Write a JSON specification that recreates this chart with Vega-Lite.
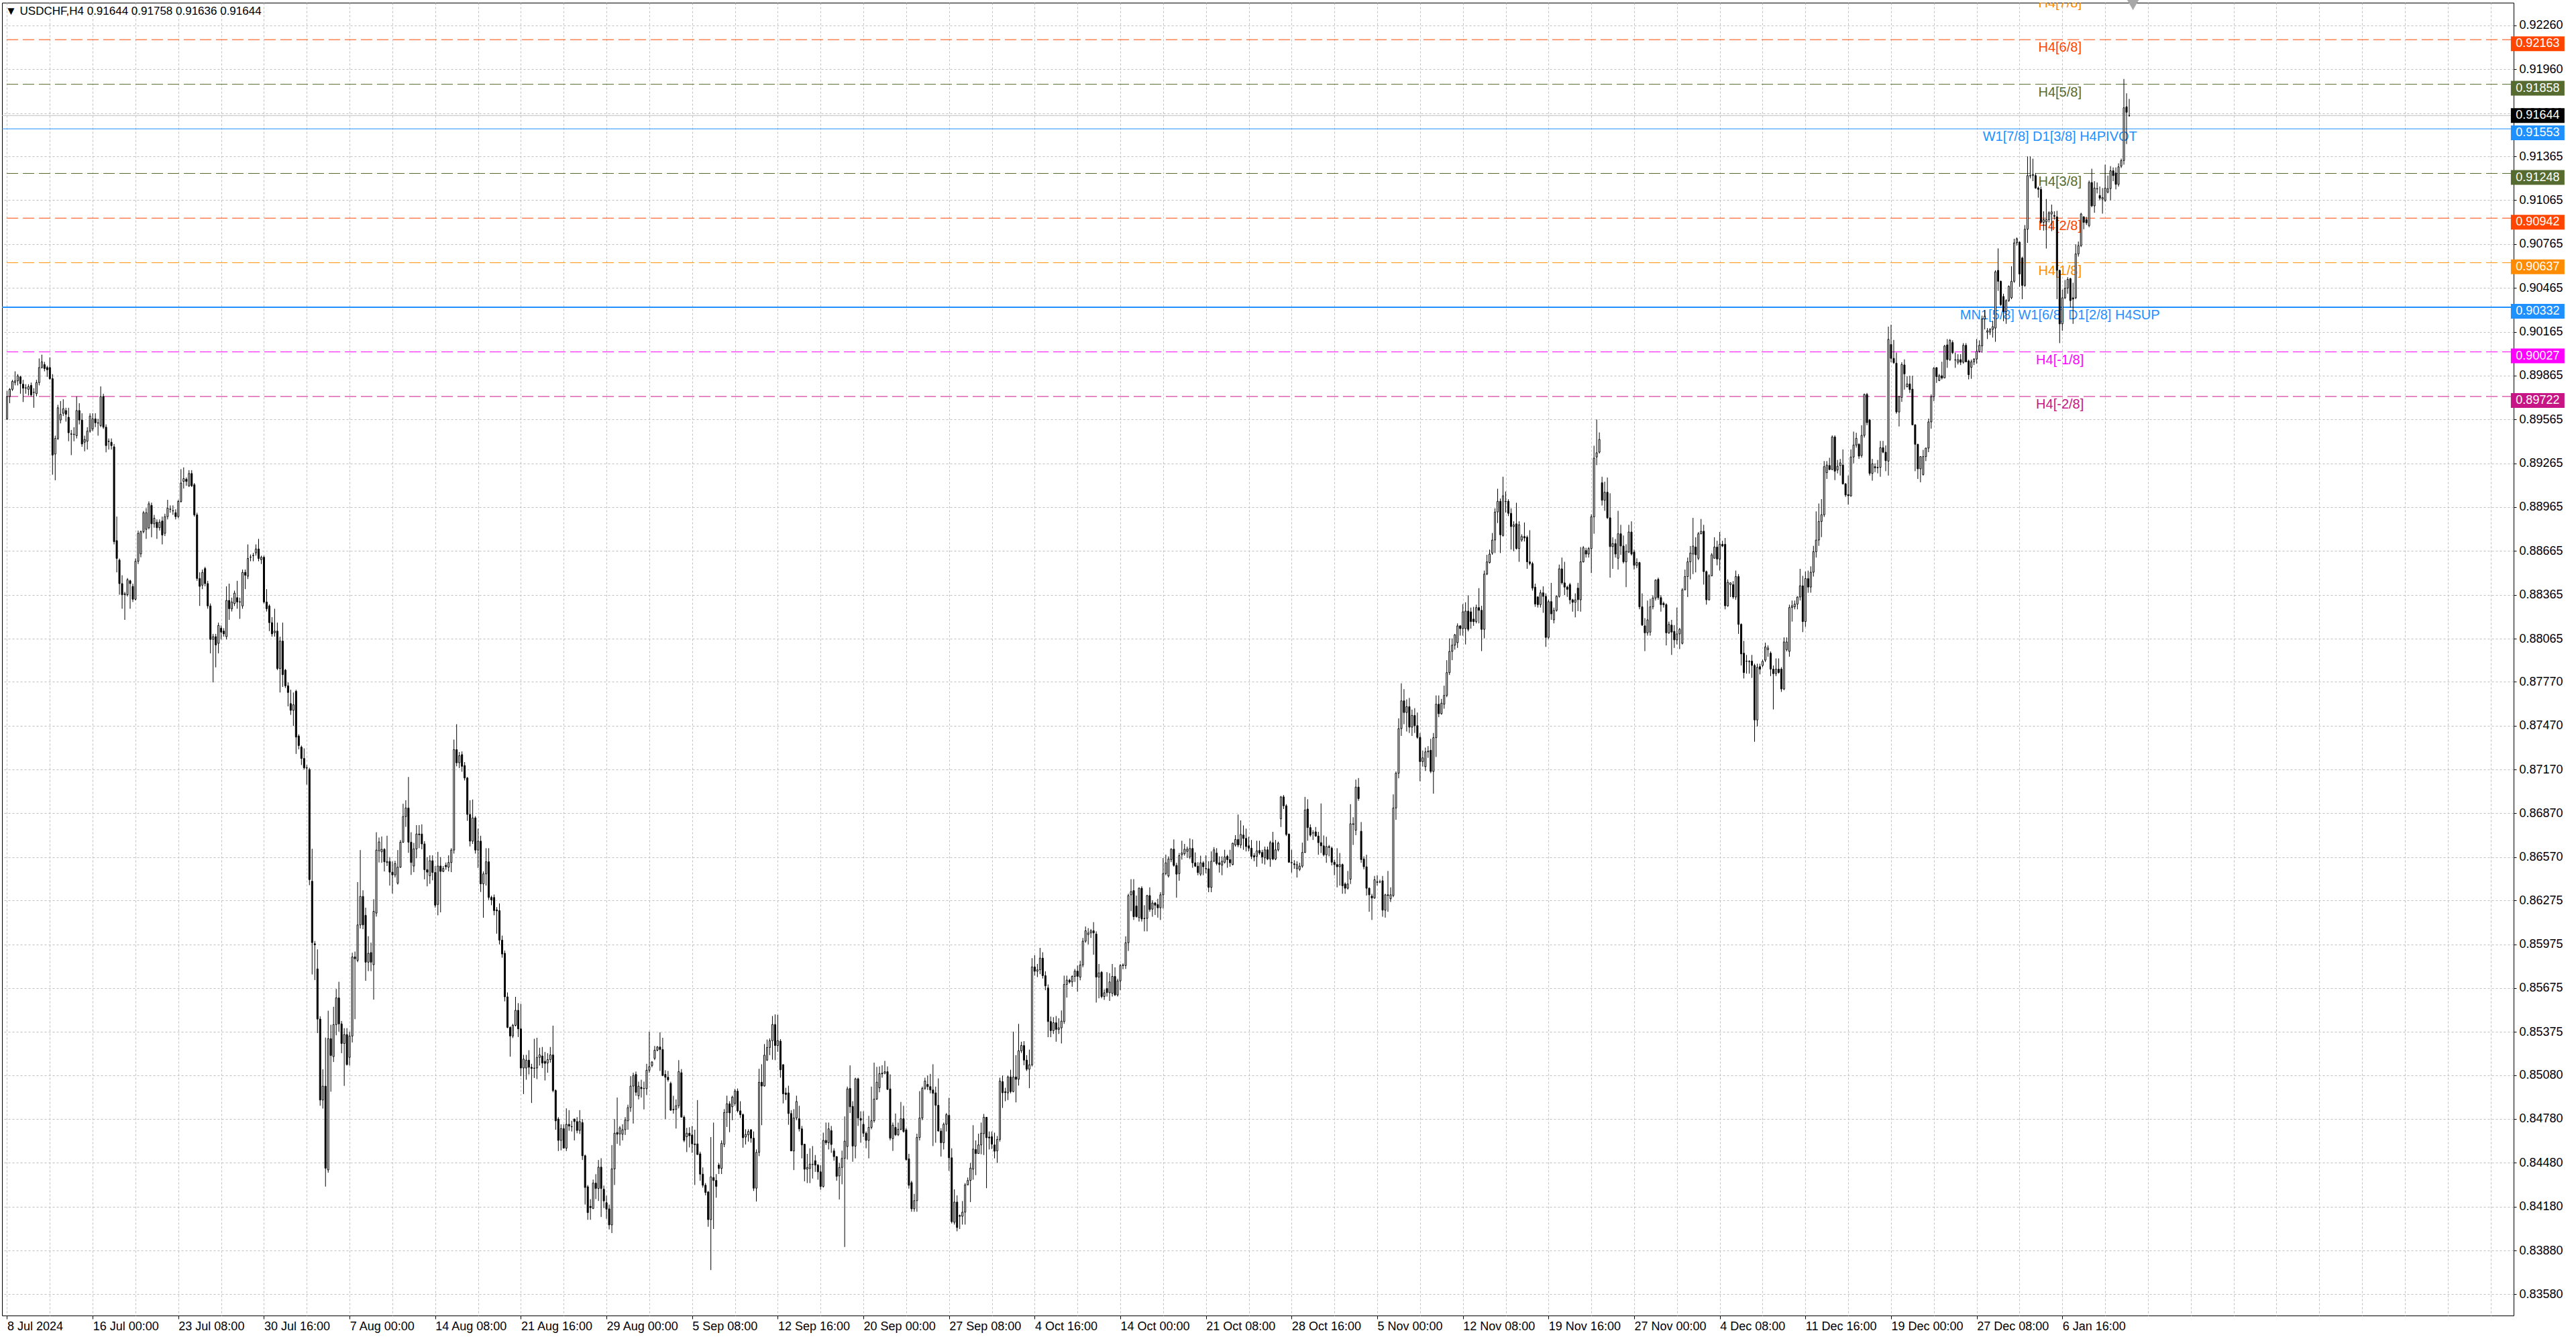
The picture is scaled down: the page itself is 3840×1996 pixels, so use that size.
{
"$schema": "https://vega.github.io/schema/vega-lite/v6.json",
"width": 3744,
"height": 1957,
"autosize": {"type": "none"},
"padding": {"left": 3, "top": 4, "right": 93, "bottom": 35},
"background": "#ffffff",
"title": {"text": "▼  USDCHF,H4  0.91644 0.91758 0.91636 0.91644", "anchor": "start", "frame": "group", "orient": "top", "offset": -26, "dx": 5, "fontSize": 17, "fontWeight": "normal", "font": "Liberation Sans", "color": "#000000"},
"config": {"view": {"stroke": "#000000", "strokeWidth": 1}},
"datasets": {
"levels": [
{"name":"H4[7/8]","p":0.92468,"grp":"7/8"},
{"name":"H4[6/8]","p":0.92163,"grp":"6/8"},
{"name":"H4[5/8]","p":0.91858,"grp":"5/8"},
{"name":"W1[7/8] D1[3/8] H4PIVOT","p":0.91553,"grp":"pivot"},
{"name":"H4[3/8]","p":0.91248,"grp":"3/8"},
{"name":"H4[2/8]","p":0.90942,"grp":"2/8"},
{"name":"H4[1/8]","p":0.90637,"grp":"1/8"},
{"name":"MN1[5/8] W1[6/8] D1[2/8] H4SUP","p":0.90332,"grp":"sup"},
{"name":"H4[-1/8]","p":0.90027,"grp":"-1/8"},
{"name":"H4[-2/8]","p":0.89722,"grp":"-2/8"},
{"name":"USDCHF bid","p":0.91644,"grp":"bid"}
],
"shift": [{"i":794.4,"p":0.924}],
"bars": [
{"i":0,"o":0.89569,"h":0.8976,"l":0.89561,"c":0.89722},
{"i":1,"o":0.89722,"h":0.89779,"l":0.89676,"c":0.89771},
{"i":2,"o":0.89771,"h":0.89836,"l":0.8976,"c":0.89825},
{"i":3,"o":0.89817,"h":0.89894,"l":0.89798,"c":0.89829},
{"i":4,"o":0.89829,"h":0.89875,"l":0.89798,"c":0.89863},
{"i":5,"o":0.89856,"h":0.89863,"l":0.89741,"c":0.8981},
{"i":6,"o":0.89806,"h":0.89836,"l":0.89684,"c":0.89779},
{"i":7,"o":0.89779,"h":0.89806,"l":0.89741,"c":0.89782},
{"i":8,"o":0.89771,"h":0.89806,"l":0.89729,"c":0.8979},
{"i":9,"o":0.89798,"h":0.89817,"l":0.89722,"c":0.89733},
{"i":10,"o":0.89749,"h":0.89779,"l":0.89645,"c":0.89751},
{"i":11,"o":0.89741,"h":0.89836,"l":0.89722,"c":0.89817},
{"i":12,"o":0.89817,"h":0.89982,"l":0.89798,"c":0.8992},
{"i":13,"o":0.8992,"h":0.90008,"l":0.89913,"c":0.89959},
{"i":14,"o":0.8994,"h":0.89959,"l":0.89894,"c":0.89913},
{"i":15,"o":0.8992,"h":0.89932,"l":0.89856,"c":0.89905},
{"i":16,"o":0.8992,"h":0.89989,"l":0.89836,"c":0.89844},
{"i":17,"o":0.89844,"h":0.89875,"l":0.89187,"c":0.89321},
{"i":18,"o":0.89328,"h":0.89454,"l":0.89149,"c":0.89435},
{"i":19,"o":0.89435,"h":0.89665,"l":0.89424,"c":0.89645},
{"i":20,"o":0.89561,"h":0.89691,"l":0.89538,"c":0.896},
{"i":21,"o":0.89607,"h":0.89703,"l":0.89588,"c":0.89638},
{"i":22,"o":0.89626,"h":0.89645,"l":0.8955,"c":0.896},
{"i":23,"o":0.8958,"h":0.89645,"l":0.89416,"c":0.89474},
{"i":24,"o":0.89466,"h":0.89493,"l":0.89321,"c":0.89464},
{"i":25,"o":0.89462,"h":0.89512,"l":0.89416,"c":0.89464},
{"i":26,"o":0.89454,"h":0.89722,"l":0.89435,"c":0.89626},
{"i":27,"o":0.89626,"h":0.89676,"l":0.89531,"c":0.89561},
{"i":28,"o":0.89561,"h":0.89607,"l":0.89378,"c":0.89397},
{"i":29,"o":0.89409,"h":0.89454,"l":0.89347,"c":0.89428},
{"i":30,"o":0.89416,"h":0.89512,"l":0.89359,"c":0.89485},
{"i":31,"o":0.89485,"h":0.89607,"l":0.89474,"c":0.89588},
{"i":32,"o":0.895,"h":0.89607,"l":0.89485,"c":0.89569},
{"i":33,"o":0.89569,"h":0.89607,"l":0.89512,"c":0.89542},
{"i":34,"o":0.89542,"h":0.89569,"l":0.89454,"c":0.8954},
{"i":35,"o":0.89523,"h":0.89791,"l":0.89512,"c":0.89722},
{"i":36,"o":0.89722,"h":0.89741,"l":0.895,"c":0.89512},
{"i":37,"o":0.89512,"h":0.89531,"l":0.8934,"c":0.89386},
{"i":38,"o":0.89416,"h":0.89435,"l":0.89359,"c":0.89414},
{"i":39,"o":0.89409,"h":0.89435,"l":0.89359,"c":0.89386},
{"i":40,"o":0.89378,"h":0.89397,"l":0.8871,"c":0.88729},
{"i":41,"o":0.88736,"h":0.88901,"l":0.88519,"c":0.88614},
{"i":42,"o":0.88603,"h":0.88614,"l":0.88366,"c":0.88442},
{"i":43,"o":0.88442,"h":0.88499,"l":0.8827,"c":0.88366},
{"i":44,"o":0.88366,"h":0.88385,"l":0.88194,"c":0.88373},
{"i":45,"o":0.88366,"h":0.8848,"l":0.88354,"c":0.88469},
{"i":46,"o":0.88461,"h":0.88469,"l":0.8827,"c":0.88442},
{"i":47,"o":0.88423,"h":0.88442,"l":0.88316,"c":0.88335},
{"i":48,"o":0.88335,"h":0.88614,"l":0.88327,"c":0.88595},
{"i":49,"o":0.88595,"h":0.88805,"l":0.88576,"c":0.88786},
{"i":50,"o":0.88645,"h":0.88805,"l":0.88622,"c":0.88797},
{"i":51,"o":0.88797,"h":0.88939,"l":0.88786,"c":0.88927},
{"i":52,"o":0.88813,"h":0.88958,"l":0.88748,"c":0.88927},
{"i":53,"o":0.88824,"h":0.89004,"l":0.88813,"c":0.88988},
{"i":54,"o":0.88977,"h":0.88996,"l":0.88759,"c":0.88851},
{"i":55,"o":0.88851,"h":0.88912,"l":0.88824,"c":0.88889},
{"i":56,"o":0.88862,"h":0.88881,"l":0.88748,"c":0.88824},
{"i":57,"o":0.88824,"h":0.88881,"l":0.88805,"c":0.88862},
{"i":58,"o":0.8887,"h":0.889,"l":0.8871,"c":0.88774},
{"i":59,"o":0.88786,"h":0.8892,"l":0.88767,"c":0.889},
{"i":60,"o":0.889,"h":0.89015,"l":0.88881,"c":0.88958},
{"i":61,"o":0.8895,"h":0.88977,"l":0.88927,"c":0.88952},
{"i":62,"o":0.88939,"h":0.88977,"l":0.88912,"c":0.88941},
{"i":63,"o":0.88927,"h":0.8895,"l":0.88881,"c":0.889},
{"i":64,"o":0.889,"h":0.89015,"l":0.88889,"c":0.89004},
{"i":65,"o":0.89004,"h":0.89225,"l":0.88996,"c":0.8913},
{"i":66,"o":0.89141,"h":0.89237,"l":0.89092,"c":0.8916},
{"i":67,"o":0.89156,"h":0.89168,"l":0.89111,"c":0.89141},
{"i":68,"o":0.89111,"h":0.89218,"l":0.89103,"c":0.89195},
{"i":69,"o":0.89195,"h":0.89218,"l":0.89103,"c":0.89111},
{"i":70,"o":0.89118,"h":0.8913,"l":0.889,"c":0.88912},
{"i":71,"o":0.88912,"h":0.88927,"l":0.88461,"c":0.88477},
{"i":72,"o":0.88477,"h":0.88519,"l":0.88289,"c":0.88423},
{"i":73,"o":0.88431,"h":0.88538,"l":0.88404,"c":0.88519},
{"i":74,"o":0.88545,"h":0.88557,"l":0.88423,"c":0.88442},
{"i":75,"o":0.88442,"h":0.88461,"l":0.8827,"c":0.88289},
{"i":76,"o":0.88289,"h":0.88306,"l":0.87965,"c":0.8806},
{"i":77,"o":0.8806,"h":0.88098,"l":0.87766,"c":0.88079},
{"i":78,"o":0.88079,"h":0.88098,"l":0.87869,"c":0.88022},
{"i":79,"o":0.88033,"h":0.88175,"l":0.87965,"c":0.88156},
{"i":80,"o":0.88137,"h":0.88156,"l":0.8806,"c":0.8811},
{"i":81,"o":0.88117,"h":0.88137,"l":0.88079,"c":0.88098},
{"i":82,"o":0.88079,"h":0.88423,"l":0.8806,"c":0.88327},
{"i":83,"o":0.88327,"h":0.88442,"l":0.88194,"c":0.8827},
{"i":84,"o":0.8827,"h":0.88346,"l":0.88251,"c":0.88316},
{"i":85,"o":0.88306,"h":0.88394,"l":0.88289,"c":0.88377},
{"i":86,"o":0.88346,"h":0.88461,"l":0.8827,"c":0.88316},
{"i":87,"o":0.88316,"h":0.88346,"l":0.88201,"c":0.88318},
{"i":88,"o":0.88289,"h":0.88538,"l":0.8827,"c":0.88519},
{"i":89,"o":0.88519,"h":0.88538,"l":0.88404,"c":0.88499},
{"i":90,"o":0.88492,"h":0.8871,"l":0.88473,"c":0.88614},
{"i":91,"o":0.88622,"h":0.88641,"l":0.88595,"c":0.88624},
{"i":92,"o":0.88633,"h":0.88652,"l":0.88595,"c":0.88635},
{"i":93,"o":0.88652,"h":0.8871,"l":0.88633,"c":0.88679},
{"i":94,"o":0.88679,"h":0.88748,"l":0.88595,"c":0.88614},
{"i":95,"o":0.88606,"h":0.88633,"l":0.88576,"c":0.88622},
{"i":96,"o":0.88622,"h":0.88633,"l":0.88306,"c":0.88316},
{"i":97,"o":0.88316,"h":0.88404,"l":0.88251,"c":0.8827},
{"i":98,"o":0.88289,"h":0.883,"l":0.88117,"c":0.88175},
{"i":99,"o":0.88175,"h":0.88213,"l":0.88079,"c":0.88098},
{"i":100,"o":0.88106,"h":0.8827,"l":0.88079,"c":0.88117},
{"i":101,"o":0.88117,"h":0.88175,"l":0.8785,"c":0.87861},
{"i":102,"o":0.87861,"h":0.88079,"l":0.87697,"c":0.88049},
{"i":103,"o":0.88049,"h":0.88175,"l":0.87735,"c":0.87819},
{"i":104,"o":0.8785,"h":0.87858,"l":0.87728,"c":0.87743},
{"i":105,"o":0.87743,"h":0.87766,"l":0.87602,"c":0.87697},
{"i":106,"o":0.87621,"h":0.87716,"l":0.87544,"c":0.87575},
{"i":107,"o":0.87575,"h":0.87697,"l":0.87468,"c":0.87613},
{"i":108,"o":0.87705,"h":0.87716,"l":0.87277,"c":0.87392},
{"i":109,"o":0.87399,"h":0.87411,"l":0.87308,"c":0.87334},
{"i":110,"o":0.87323,"h":0.87334,"l":0.87201,"c":0.87246},
{"i":111,"o":0.87246,"h":0.87315,"l":0.8717,"c":0.87182},
{"i":112,"o":0.87182,"h":0.87201,"l":0.87067,"c":0.8718},
{"i":113,"o":0.8717,"h":0.87182,"l":0.86379,"c":0.86417},
{"i":114,"o":0.86406,"h":0.86628,"l":0.85768,"c":0.85986},
{"i":115,"o":0.85978,"h":0.85997,"l":0.8573,"c":0.85971},
{"i":116,"o":0.85806,"h":0.8594,"l":0.85367,"c":0.85463},
{"i":117,"o":0.85463,"h":0.85482,"l":0.8487,"c":0.84909},
{"i":118,"o":0.84909,"h":0.85119,"l":0.84851,"c":0.85004},
{"i":119,"o":0.85004,"h":0.85336,"l":0.84317,"c":0.84443},
{"i":120,"o":0.84431,"h":0.8552,"l":0.84412,"c":0.85329},
{"i":121,"o":0.85329,"h":0.85424,"l":0.84966,"c":0.85214},
{"i":122,"o":0.85206,"h":0.85547,"l":0.85169,"c":0.85425},
{"i":123,"o":0.85425,"h":0.85669,"l":0.85352,"c":0.85608},
{"i":124,"o":0.85608,"h":0.85718,"l":0.85377,"c":0.8543},
{"i":125,"o":0.8543,"h":0.8545,"l":0.8523,"c":0.85296},
{"i":126,"o":0.85296,"h":0.85401,"l":0.85006,"c":0.85357},
{"i":127,"o":0.85357,"h":0.85401,"l":0.85145,"c":0.85152},
{"i":128,"o":0.85201,"h":0.85377,"l":0.85145,"c":0.85347},
{"i":129,"o":0.85347,"h":0.85917,"l":0.85303,"c":0.85888},
{"i":130,"o":0.85888,"h":0.85925,"l":0.85462,"c":0.85876},
{"i":131,"o":0.85864,"h":0.864,"l":0.85852,"c":0.86107},
{"i":132,"o":0.86107,"h":0.86619,"l":0.86083,"c":0.86302},
{"i":133,"o":0.86302,"h":0.86344,"l":0.86078,"c":0.86107},
{"i":134,"o":0.86173,"h":0.86225,"l":0.85725,"c":0.85852},
{"i":135,"o":0.85852,"h":0.8603,"l":0.85791,"c":0.85913},
{"i":136,"o":0.85918,"h":0.85986,"l":0.85791,"c":0.85852},
{"i":137,"o":0.85835,"h":0.86283,"l":0.85596,"c":0.862},
{"i":138,"o":0.86188,"h":0.86741,"l":0.86164,"c":0.86619},
{"i":139,"o":0.86614,"h":0.86705,"l":0.86534,"c":0.86675},
{"i":140,"o":0.86607,"h":0.86712,"l":0.86532,"c":0.86624},
{"i":141,"o":0.86624,"h":0.86632,"l":0.86473,"c":0.86539},
{"i":142,"o":0.86534,"h":0.86717,"l":0.8651,"c":0.86541},
{"i":143,"o":0.86541,"h":0.86571,"l":0.86376,"c":0.86468},
{"i":144,"o":0.86468,"h":0.86541,"l":0.86322,"c":0.86449},
{"i":145,"o":0.86449,"h":0.86546,"l":0.86432,"c":0.86527},
{"i":146,"o":0.86393,"h":0.86619,"l":0.86383,"c":0.86502},
{"i":147,"o":0.86502,"h":0.86688,"l":0.86497,"c":0.86673},
{"i":148,"o":0.86673,"h":0.86936,"l":0.86668,"c":0.86848},
{"i":149,"o":0.86848,"h":0.8696,"l":0.86778,"c":0.86907},
{"i":150,"o":0.86907,"h":0.87119,"l":0.866,"c":0.86673},
{"i":151,"o":0.86673,"h":0.86741,"l":0.86449,"c":0.86534},
{"i":152,"o":0.8651,"h":0.86668,"l":0.86468,"c":0.86627},
{"i":153,"o":0.86627,"h":0.8679,"l":0.86563,"c":0.86729},
{"i":154,"o":0.86729,"h":0.8679,"l":0.86632,"c":0.86724},
{"i":155,"o":0.86729,"h":0.86795,"l":0.86624,"c":0.86661},
{"i":156,"o":0.86661,"h":0.8668,"l":0.86419,"c":0.86485},
{"i":157,"o":0.86485,"h":0.86571,"l":0.86371,"c":0.86468},
{"i":158,"o":0.86444,"h":0.86583,"l":0.86388,"c":0.86546},
{"i":159,"o":0.86546,"h":0.86583,"l":0.86412,"c":0.86466},
{"i":160,"o":0.86466,"h":0.8651,"l":0.86225,"c":0.86242},
{"i":161,"o":0.86247,"h":0.86607,"l":0.86173,"c":0.8651},
{"i":162,"o":0.8651,"h":0.86571,"l":0.86193,"c":0.86473},
{"i":163,"o":0.86473,"h":0.8651,"l":0.86468,"c":0.86493},
{"i":164,"o":0.86515,"h":0.86534,"l":0.86485,"c":0.86505},
{"i":165,"o":0.86502,"h":0.86583,"l":0.86473,"c":0.86534},
{"i":166,"o":0.86534,"h":0.86632,"l":0.86468,"c":0.86619},
{"i":167,"o":0.86619,"h":0.87375,"l":0.86595,"c":0.87306},
{"i":168,"o":0.87306,"h":0.8748,"l":0.87192,"c":0.87216},
{"i":169,"o":0.87216,"h":0.8729,"l":0.8718,"c":0.87265},
{"i":170,"o":0.87272,"h":0.87294,"l":0.87155,"c":0.87192},
{"i":171,"o":0.87197,"h":0.87221,"l":0.87095,"c":0.87112},
{"i":172,"o":0.87112,"h":0.87119,"l":0.86819,"c":0.86863},
{"i":173,"o":0.86863,"h":0.8696,"l":0.86644,"c":0.8668},
{"i":174,"o":0.8668,"h":0.86965,"l":0.86661,"c":0.86839},
{"i":175,"o":0.86839,"h":0.86851,"l":0.86595,"c":0.86619},
{"i":176,"o":0.86619,"h":0.86766,"l":0.86497,"c":0.8668},
{"i":177,"o":0.8668,"h":0.86717,"l":0.86332,"c":0.86388},
{"i":178,"o":0.86388,"h":0.86473,"l":0.86156,"c":0.86456},
{"i":179,"o":0.86456,"h":0.86632,"l":0.86376,"c":0.86539},
{"i":180,"o":0.86539,"h":0.86632,"l":0.86278,"c":0.86295},
{"i":181,"o":0.86295,"h":0.86307,"l":0.86242,"c":0.86278},
{"i":182,"o":0.86295,"h":0.86315,"l":0.86173,"c":0.86205},
{"i":183,"o":0.8621,"h":0.86229,"l":0.86047,"c":0.86203},
{"i":184,"o":0.86205,"h":0.86254,"l":0.85974,"c":0.86003},
{"i":185,"o":0.86003,"h":0.86034,"l":0.85883,"c":0.85908},
{"i":186,"o":0.85913,"h":0.85932,"l":0.85584,"c":0.85615},
{"i":187,"o":0.85615,"h":0.85645,"l":0.85401,"c":0.85406},
{"i":188,"o":0.85406,"h":0.85413,"l":0.85206,"c":0.85347},
{"i":189,"o":0.85347,"h":0.8543,"l":0.85333,"c":0.8542},
{"i":190,"o":0.8542,"h":0.85615,"l":0.85413,"c":0.85523},
{"i":191,"o":0.85523,"h":0.85572,"l":0.8534,"c":0.85396},
{"i":192,"o":0.85396,"h":0.85567,"l":0.85072,"c":0.85128},
{"i":193,"o":0.85128,"h":0.85218,"l":0.8495,"c":0.85189},
{"i":194,"o":0.85128,"h":0.85218,"l":0.85048,"c":0.85182},
{"i":195,"o":0.85182,"h":0.8525,"l":0.85084,"c":0.85133},
{"i":196,"o":0.85133,"h":0.85157,"l":0.84889,"c":0.85126},
{"i":197,"o":0.85126,"h":0.85328,"l":0.8506,"c":0.85128},
{"i":198,"o":0.85128,"h":0.85335,"l":0.85052,"c":0.85201},
{"i":199,"o":0.85201,"h":0.85267,"l":0.85145,"c":0.85218},
{"i":200,"o":0.85211,"h":0.85272,"l":0.85128,"c":0.85162},
{"i":201,"o":0.85174,"h":0.85238,"l":0.85043,"c":0.8516},
{"i":202,"o":0.85162,"h":0.8523,"l":0.85096,"c":0.85186},
{"i":203,"o":0.85186,"h":0.85272,"l":0.85165,"c":0.85218},
{"i":204,"o":0.85218,"h":0.85418,"l":0.84962,"c":0.84974},
{"i":205,"o":0.84974,"h":0.84982,"l":0.84706,"c":0.84767},
{"i":206,"o":0.84779,"h":0.84792,"l":0.8456,"c":0.84633},
{"i":207,"o":0.84633,"h":0.84743,"l":0.84565,"c":0.84714},
{"i":208,"o":0.84714,"h":0.84743,"l":0.84577,"c":0.8458},
{"i":209,"o":0.8458,"h":0.84852,"l":0.8456,"c":0.84743},
{"i":210,"o":0.84743,"h":0.8484,"l":0.84699,"c":0.84731},
{"i":211,"o":0.84728,"h":0.84767,"l":0.84694,"c":0.84726},
{"i":212,"o":0.84779,"h":0.84782,"l":0.84633,"c":0.84762},
{"i":213,"o":0.84762,"h":0.84792,"l":0.84682,"c":0.84701},
{"i":214,"o":0.84701,"h":0.8484,"l":0.84677,"c":0.84762},
{"i":215,"o":0.84755,"h":0.84779,"l":0.84499,"c":0.84528},
{"i":216,"o":0.84528,"h":0.84536,"l":0.84194,"c":0.84311},
{"i":217,"o":0.84316,"h":0.84328,"l":0.8409,"c":0.84139},
{"i":218,"o":0.84182,"h":0.84231,"l":0.8409,"c":0.84173},
{"i":219,"o":0.84168,"h":0.84365,"l":0.84163,"c":0.84341},
{"i":220,"o":0.84341,"h":0.84402,"l":0.84231,"c":0.84304},
{"i":221,"o":0.84304,"h":0.84499,"l":0.84219,"c":0.8445},
{"i":222,"o":0.8445,"h":0.84511,"l":0.84109,"c":0.84304},
{"i":223,"o":0.84299,"h":0.84324,"l":0.8417,"c":0.84219},
{"i":224,"o":0.84207,"h":0.84255,"l":0.84097,"c":0.84163},
{"i":225,"o":0.84165,"h":0.84194,"l":0.84024,"c":0.84055},
{"i":226,"o":0.84055,"h":0.84601,"l":0.83999,"c":0.84438},
{"i":227,"o":0.84438,"h":0.84779,"l":0.84328,"c":0.84682},
{"i":228,"o":0.84687,"h":0.84926,"l":0.84609,"c":0.84675},
{"i":229,"o":0.84677,"h":0.84731,"l":0.84597,"c":0.84719},
{"i":230,"o":0.84675,"h":0.84743,"l":0.84633,"c":0.84706},
{"i":231,"o":0.84706,"h":0.84792,"l":0.8467,"c":0.84772},
{"i":232,"o":0.84767,"h":0.84877,"l":0.84706,"c":0.84857},
{"i":233,"o":0.84857,"h":0.85072,"l":0.84828,"c":0.85004},
{"i":234,"o":0.85004,"h":0.85096,"l":0.84748,"c":0.85077},
{"i":235,"o":0.85084,"h":0.85104,"l":0.84938,"c":0.84962},
{"i":236,"o":0.84938,"h":0.85035,"l":0.84913,"c":0.85004},
{"i":237,"o":0.84996,"h":0.85048,"l":0.84926,"c":0.84987},
{"i":238,"o":0.84987,"h":0.85035,"l":0.84845,"c":0.84989},
{"i":239,"o":0.84987,"h":0.85157,"l":0.84943,"c":0.85113},
{"i":240,"o":0.85113,"h":0.85377,"l":0.85096,"c":0.85138},
{"i":241,"o":0.85145,"h":0.85175,"l":0.85133,"c":0.85169},
{"i":242,"o":0.85194,"h":0.85279,"l":0.85182,"c":0.8525},
{"i":243,"o":0.8525,"h":0.85279,"l":0.85242,"c":0.85272},
{"i":244,"o":0.85272,"h":0.85372,"l":0.85108,"c":0.85255},
{"i":245,"o":0.85255,"h":0.85335,"l":0.85072,"c":0.85077},
{"i":246,"o":0.85084,"h":0.85113,"l":0.84779,"c":0.85065},
{"i":247,"o":0.85065,"h":0.85108,"l":0.85035,"c":0.85048},
{"i":248,"o":0.85023,"h":0.85035,"l":0.84835,"c":0.8484},
{"i":249,"o":0.84845,"h":0.84938,"l":0.84816,"c":0.84842},
{"i":250,"o":0.84845,"h":0.84913,"l":0.84714,"c":0.8487},
{"i":251,"o":0.8487,"h":0.85182,"l":0.84852,"c":0.85104},
{"i":252,"o":0.85096,"h":0.85121,"l":0.84792,"c":0.84792},
{"i":253,"o":0.84792,"h":0.84804,"l":0.84621,"c":0.84633},
{"i":254,"o":0.84658,"h":0.84719,"l":0.84553,"c":0.84682},
{"i":255,"o":0.84682,"h":0.84723,"l":0.84585,"c":0.84665},
{"i":256,"o":0.8467,"h":0.84731,"l":0.84548,"c":0.84609},
{"i":257,"o":0.84609,"h":0.84706,"l":0.84328,"c":0.84604},
{"i":258,"o":0.84609,"h":0.84909,"l":0.84536,"c":0.84536},
{"i":259,"o":0.84541,"h":0.84556,"l":0.84357,"c":0.84402},
{"i":260,"o":0.84402,"h":0.84448,"l":0.8431,"c":0.84326},
{"i":261,"o":0.84326,"h":0.84341,"l":0.84257,"c":0.84277},
{"i":262,"o":0.8428,"h":0.84287,"l":0.84042,"c":0.84091},
{"i":263,"o":0.84091,"h":0.84656,"l":0.83746,"c":0.84384},
{"i":264,"o":0.84379,"h":0.84755,"l":0.84027,"c":0.84359},
{"i":265,"o":0.84359,"h":0.84402,"l":0.84241,"c":0.84318},
{"i":266,"o":0.84464,"h":0.84479,"l":0.84403,"c":0.84441},
{"i":267,"o":0.84441,"h":0.84633,"l":0.84403,"c":0.84613},
{"i":268,"o":0.84607,"h":0.84847,"l":0.84587,"c":0.84824},
{"i":269,"o":0.84824,"h":0.84939,"l":0.84725,"c":0.84883},
{"i":270,"o":0.84883,"h":0.84901,"l":0.84689,"c":0.84821},
{"i":271,"o":0.84863,"h":0.84939,"l":0.84771,"c":0.84929},
{"i":272,"o":0.84886,"h":0.84985,"l":0.8487,"c":0.8497},
{"i":273,"o":0.8497,"h":0.84988,"l":0.84824,"c":0.84835},
{"i":274,"o":0.84835,"h":0.84901,"l":0.84786,"c":0.84809},
{"i":275,"o":0.84809,"h":0.84817,"l":0.84583,"c":0.84651},
{"i":276,"o":0.84656,"h":0.84709,"l":0.84605,"c":0.84674},
{"i":277,"o":0.84671,"h":0.84709,"l":0.84625,"c":0.84694},
{"i":278,"o":0.84706,"h":0.84709,"l":0.84617,"c":0.84648},
{"i":279,"o":0.84648,"h":0.84694,"l":0.84287,"c":0.84306},
{"i":280,"o":0.84306,"h":0.84571,"l":0.84215,"c":0.84551},
{"i":281,"o":0.84551,"h":0.85123,"l":0.84525,"c":0.85031},
{"i":282,"o":0.85031,"h":0.85154,"l":0.84737,"c":0.85005},
{"i":283,"o":0.85005,"h":0.85292,"l":0.85001,"c":0.85216},
{"i":284,"o":0.85182,"h":0.85323,"l":0.85177,"c":0.85269},
{"i":285,"o":0.85269,"h":0.85331,"l":0.85216,"c":0.85315},
{"i":286,"o":0.85315,"h":0.85484,"l":0.85185,"c":0.85426},
{"i":287,"o":0.85426,"h":0.85495,"l":0.85182,"c":0.85282},
{"i":288,"o":0.85282,"h":0.85492,"l":0.85239,"c":0.85315},
{"i":289,"o":0.85312,"h":0.85326,"l":0.85062,"c":0.85116},
{"i":290,"o":0.85151,"h":0.85154,"l":0.84886,"c":0.84952},
{"i":291,"o":0.84958,"h":0.84993,"l":0.84909,"c":0.84947},
{"i":292,"o":0.84958,"h":0.85007,"l":0.8474,"c":0.84817},
{"i":293,"o":0.84817,"h":0.8484,"l":0.84559,"c":0.84561},
{"i":294,"o":0.84561,"h":0.84847,"l":0.8443,"c":0.84786},
{"i":295,"o":0.84786,"h":0.84939,"l":0.84771,"c":0.84899},
{"i":296,"o":0.84781,"h":0.8487,"l":0.84694,"c":0.84712},
{"i":297,"o":0.84712,"h":0.84732,"l":0.8451,"c":0.84602},
{"i":298,"o":0.84607,"h":0.8461,"l":0.84353,"c":0.84436},
{"i":299,"o":0.84436,"h":0.84541,"l":0.84341,"c":0.84448},
{"i":300,"o":0.84441,"h":0.84579,"l":0.84341,"c":0.84471},
{"i":301,"o":0.84468,"h":0.84594,"l":0.84372,"c":0.8447},
{"i":302,"o":0.84494,"h":0.84533,"l":0.84418,"c":0.84464},
{"i":303,"o":0.84464,"h":0.84471,"l":0.84364,"c":0.84418},
{"i":304,"o":0.84418,"h":0.84464,"l":0.84295,"c":0.84318},
{"i":305,"o":0.84318,"h":0.84686,"l":0.8431,"c":0.84633},
{"i":306,"o":0.84633,"h":0.84755,"l":0.84602,"c":0.84617},
{"i":307,"o":0.84617,"h":0.84755,"l":0.84571,"c":0.84712},
{"i":308,"o":0.847,"h":0.84732,"l":0.84548,"c":0.84605},
{"i":309,"o":0.84561,"h":0.84579,"l":0.84494,"c":0.84522},
{"i":310,"o":0.84522,"h":0.84525,"l":0.84357,"c":0.84387},
{"i":311,"o":0.8439,"h":0.84479,"l":0.84229,"c":0.84448},
{"i":312,"o":0.84448,"h":0.84563,"l":0.84333,"c":0.8451},
{"i":313,"o":0.8451,"h":0.84797,"l":0.83904,"c":0.84628},
{"i":314,"o":0.84591,"h":0.85001,"l":0.84502,"c":0.84985},
{"i":315,"o":0.84989,"h":0.85146,"l":0.8482,"c":0.84863},
{"i":316,"o":0.84866,"h":0.84901,"l":0.84487,"c":0.84594},
{"i":317,"o":0.84594,"h":0.85062,"l":0.8451,"c":0.85054},
{"i":318,"o":0.85054,"h":0.85062,"l":0.84732,"c":0.84786},
{"i":319,"o":0.84783,"h":0.84832,"l":0.84617,"c":0.84771},
{"i":320,"o":0.84743,"h":0.84832,"l":0.84656,"c":0.84682},
{"i":321,"o":0.84682,"h":0.84694,"l":0.84579,"c":0.84633},
{"i":322,"o":0.84633,"h":0.84801,"l":0.8451,"c":0.84722},
{"i":323,"o":0.84722,"h":0.85001,"l":0.84709,"c":0.84768},
{"i":324,"o":0.84768,"h":0.85165,"l":0.84755,"c":0.84916},
{"i":325,"o":0.84916,"h":0.85136,"l":0.84909,"c":0.85031},
{"i":326,"o":0.84993,"h":0.85139,"l":0.84962,"c":0.8509},
{"i":327,"o":0.85093,"h":0.85147,"l":0.85062,"c":0.85088},
{"i":328,"o":0.85093,"h":0.85177,"l":0.85085,"c":0.85103},
{"i":329,"o":0.85103,"h":0.85139,"l":0.84978,"c":0.84982},
{"i":330,"o":0.84985,"h":0.85085,"l":0.84633,"c":0.84648},
{"i":331,"o":0.84645,"h":0.84755,"l":0.84561,"c":0.84737},
{"i":332,"o":0.84722,"h":0.84817,"l":0.84663,"c":0.84671},
{"i":333,"o":0.84671,"h":0.84755,"l":0.84663,"c":0.84709},
{"i":334,"o":0.84709,"h":0.84896,"l":0.84702,"c":0.84781},
{"i":335,"o":0.84781,"h":0.8487,"l":0.84686,"c":0.84694},
{"i":336,"o":0.84705,"h":0.84717,"l":0.84494,"c":0.84502},
{"i":337,"o":0.84507,"h":0.84541,"l":0.84303,"c":0.84326},
{"i":338,"o":0.84344,"h":0.84357,"l":0.84145,"c":0.84165},
{"i":339,"o":0.84165,"h":0.84267,"l":0.84145,"c":0.84221},
{"i":340,"o":0.84221,"h":0.84679,"l":0.84145,"c":0.84653},
{"i":341,"o":0.84653,"h":0.8497,"l":0.84633,"c":0.84786},
{"i":342,"o":0.84786,"h":0.85001,"l":0.84771,"c":0.84989},
{"i":343,"o":0.84989,"h":0.85062,"l":0.84978,"c":0.85039},
{"i":344,"o":0.85016,"h":0.85077,"l":0.84978,"c":0.85001},
{"i":345,"o":0.85001,"h":0.85088,"l":0.84955,"c":0.84978},
{"i":346,"o":0.84978,"h":0.85154,"l":0.84594,"c":0.84955},
{"i":347,"o":0.84958,"h":0.85001,"l":0.84617,"c":0.84873},
{"i":348,"o":0.84873,"h":0.85057,"l":0.84694,"c":0.84697},
{"i":349,"o":0.84697,"h":0.84717,"l":0.84522,"c":0.84617},
{"i":350,"o":0.84617,"h":0.84755,"l":0.84571,"c":0.84743},
{"i":351,"o":0.84743,"h":0.8482,"l":0.84694,"c":0.84809},
{"i":352,"o":0.84804,"h":0.84924,"l":0.84425,"c":0.84514},
{"i":353,"o":0.84514,"h":0.84579,"l":0.84065,"c":0.84077},
{"i":354,"o":0.84073,"h":0.84298,"l":0.84057,"c":0.84211},
{"i":355,"o":0.84211,"h":0.84257,"l":0.84011,"c":0.84037},
{"i":356,"o":0.84119,"h":0.84126,"l":0.84027,"c":0.84114},
{"i":357,"o":0.84114,"h":0.84218,"l":0.84057,"c":0.84142},
{"i":358,"o":0.84142,"h":0.84341,"l":0.84057,"c":0.84329},
{"i":359,"o":0.84329,"h":0.84379,"l":0.84326,"c":0.84359},
{"i":360,"o":0.84359,"h":0.84479,"l":0.84211,"c":0.84444},
{"i":361,"o":0.84436,"h":0.84737,"l":0.84364,"c":0.84574},
{"i":362,"o":0.84571,"h":0.84633,"l":0.84395,"c":0.84543},
{"i":363,"o":0.84543,"h":0.84679,"l":0.84541,"c":0.84602},
{"i":364,"o":0.84602,"h":0.84755,"l":0.84538,"c":0.84682},
{"i":365,"o":0.84679,"h":0.84814,"l":0.84533,"c":0.84791},
{"i":366,"o":0.84791,"h":0.84794,"l":0.84306,"c":0.84651},
{"i":367,"o":0.84656,"h":0.84694,"l":0.84571,"c":0.8465},
{"i":368,"o":0.84659,"h":0.84694,"l":0.84574,"c":0.84607},
{"i":369,"o":0.84602,"h":0.84686,"l":0.8451,"c":0.84559},
{"i":370,"o":0.84561,"h":0.84663,"l":0.84479,"c":0.8464},
{"i":371,"o":0.8464,"h":0.85062,"l":0.84625,"c":0.85039},
{"i":372,"o":0.85035,"h":0.85077,"l":0.84855,"c":0.84959},
{"i":373,"o":0.84966,"h":0.84993,"l":0.84901,"c":0.8496},
{"i":374,"o":0.84958,"h":0.85077,"l":0.84909,"c":0.85067},
{"i":375,"o":0.85067,"h":0.85116,"l":0.84955,"c":0.84967},
{"i":376,"o":0.84967,"h":0.85377,"l":0.84962,"c":0.85067},
{"i":377,"o":0.85067,"h":0.85216,"l":0.84893,"c":0.85051},
{"i":378,"o":0.85051,"h":0.8543,"l":0.85008,"c":0.85246},
{"i":379,"o":0.85246,"h":0.85308,"l":0.85231,"c":0.85282},
{"i":380,"o":0.85282,"h":0.85312,"l":0.85147,"c":0.85182},
{"i":381,"o":0.85182,"h":0.85216,"l":0.85108,"c":0.8512},
{"i":382,"o":0.8512,"h":0.85254,"l":0.8499,"c":0.8515},
{"i":383,"o":0.8515,"h":0.8588,"l":0.85139,"c":0.8582},
{"i":384,"o":0.8582,"h":0.859,"l":0.8576,"c":0.8579},
{"i":385,"o":0.8579,"h":0.8584,"l":0.8575,"c":0.858},
{"i":386,"o":0.858,"h":0.8595,"l":0.8577,"c":0.8588},
{"i":387,"o":0.8588,"h":0.8592,"l":0.8574,"c":0.8576},
{"i":388,"o":0.8576,"h":0.8579,"l":0.8566,"c":0.8569},
{"i":389,"o":0.85676,"h":0.857,"l":0.85339,"c":0.85446},
{"i":390,"o":0.85446,"h":0.8548,"l":0.85339,"c":0.85384},
{"i":391,"o":0.85384,"h":0.85476,"l":0.85361,"c":0.85438},
{"i":392,"o":0.85438,"h":0.85484,"l":0.85308,"c":0.85392},
{"i":393,"o":0.85392,"h":0.85469,"l":0.85361,"c":0.85403},
{"i":394,"o":0.85403,"h":0.85522,"l":0.85296,"c":0.85449},
{"i":395,"o":0.85446,"h":0.8576,"l":0.8543,"c":0.857},
{"i":396,"o":0.857,"h":0.8576,"l":0.8561,"c":0.8573},
{"i":397,"o":0.85728,"h":0.85739,"l":0.85706,"c":0.85717},
{"i":398,"o":0.85717,"h":0.85762,"l":0.85684,"c":0.85755},
{"i":399,"o":0.85755,"h":0.85806,"l":0.85717,"c":0.85791},
{"i":400,"o":0.85791,"h":0.85829,"l":0.8565,"c":0.85755},
{"i":401,"o":0.8575,"h":0.85862,"l":0.85728,"c":0.85833},
{"i":402,"o":0.85833,"h":0.86018,"l":0.85817,"c":0.85996},
{"i":403,"o":0.85996,"h":0.86096,"l":0.85985,"c":0.86067},
{"i":404,"o":0.86041,"h":0.86085,"l":0.85974,"c":0.86052},
{"i":405,"o":0.86052,"h":0.86079,"l":0.86018,"c":0.86067},
{"i":406,"o":0.86067,"h":0.86126,"l":0.85903,"c":0.86052},
{"i":407,"o":0.86045,"h":0.86063,"l":0.85576,"c":0.8575},
{"i":408,"o":0.8575,"h":0.8584,"l":0.85605,"c":0.85779},
{"i":409,"o":0.85784,"h":0.85791,"l":0.85605,"c":0.85617},
{"i":410,"o":0.85617,"h":0.85666,"l":0.85594,"c":0.85643},
{"i":411,"o":0.85672,"h":0.85784,"l":0.85617,"c":0.85644},
{"i":412,"o":0.85643,"h":0.85777,"l":0.85587,"c":0.85717},
{"i":413,"o":0.85639,"h":0.8584,"l":0.85617,"c":0.85755},
{"i":414,"o":0.85755,"h":0.85817,"l":0.85621,"c":0.85628},
{"i":415,"o":0.85628,"h":0.85739,"l":0.85617,"c":0.85724},
{"i":416,"o":0.85724,"h":0.8584,"l":0.85661,"c":0.85829},
{"i":417,"o":0.85829,"h":0.85844,"l":0.85804,"c":0.85833},
{"i":418,"o":0.85829,"h":0.86029,"l":0.85806,"c":0.85985},
{"i":419,"o":0.85985,"h":0.8632,"l":0.85929,"c":0.86308},
{"i":420,"o":0.86313,"h":0.8642,"l":0.86201,"c":0.86335},
{"i":421,"o":0.86342,"h":0.8642,"l":0.86141,"c":0.86163},
{"i":422,"o":0.86237,"h":0.86308,"l":0.86157,"c":0.86164},
{"i":423,"o":0.86157,"h":0.86364,"l":0.8613,"c":0.86358},
{"i":424,"o":0.86358,"h":0.86371,"l":0.8613,"c":0.86148},
{"i":425,"o":0.86152,"h":0.86242,"l":0.86063,"c":0.8615},
{"i":426,"o":0.86152,"h":0.86313,"l":0.86063,"c":0.86308},
{"i":427,"o":0.86308,"h":0.86364,"l":0.86197,"c":0.86212},
{"i":428,"o":0.86215,"h":0.86275,"l":0.86163,"c":0.86257},
{"i":429,"o":0.86257,"h":0.86264,"l":0.86175,"c":0.86242},
{"i":430,"o":0.86246,"h":0.86286,"l":0.86157,"c":0.86224},
{"i":431,"o":0.86224,"h":0.86331,"l":0.86141,"c":0.86313},
{"i":432,"o":0.86313,"h":0.86565,"l":0.86219,"c":0.86458},
{"i":433,"o":0.86458,"h":0.86588,"l":0.86447,"c":0.86532},
{"i":434,"o":0.86442,"h":0.86576,"l":0.86431,"c":0.86558},
{"i":435,"o":0.86554,"h":0.86632,"l":0.86536,"c":0.86625},
{"i":436,"o":0.86625,"h":0.86692,"l":0.86505,"c":0.86514},
{"i":437,"o":0.86514,"h":0.86532,"l":0.86293,"c":0.86454},
{"i":438,"o":0.86458,"h":0.86599,"l":0.86409,"c":0.86581},
{"i":439,"o":0.86587,"h":0.86683,"l":0.86554,"c":0.86599},
{"i":440,"o":0.86594,"h":0.86661,"l":0.86581,"c":0.86625},
{"i":441,"o":0.8661,"h":0.86643,"l":0.86565,"c":0.86626},
{"i":442,"o":0.86572,"h":0.86699,"l":0.86558,"c":0.8663},
{"i":443,"o":0.8663,"h":0.86692,"l":0.86498,"c":0.86532},
{"i":444,"o":0.86532,"h":0.86603,"l":0.86503,"c":0.86509},
{"i":445,"o":0.86509,"h":0.86536,"l":0.86447,"c":0.86465},
{"i":446,"o":0.86454,"h":0.86581,"l":0.86442,"c":0.86532},
{"i":447,"o":0.86532,"h":0.86543,"l":0.86447,"c":0.86505},
{"i":448,"o":0.86491,"h":0.86583,"l":0.8646,"c":0.86493},
{"i":449,"o":0.86491,"h":0.86543,"l":0.86331,"c":0.86364},
{"i":450,"o":0.86364,"h":0.8661,"l":0.86331,"c":0.86543},
{"i":451,"o":0.86543,"h":0.86639,"l":0.86536,"c":0.86621},
{"i":452,"o":0.86599,"h":0.86632,"l":0.86514,"c":0.86527},
{"i":453,"o":0.86532,"h":0.86576,"l":0.86465,"c":0.8652},
{"i":454,"o":0.86516,"h":0.86576,"l":0.86447,"c":0.86543},
{"i":455,"o":0.86536,"h":0.86621,"l":0.86527,"c":0.86572},
{"i":456,"o":0.86576,"h":0.86587,"l":0.86498,"c":0.86554},
{"i":457,"o":0.86554,"h":0.86621,"l":0.86505,"c":0.86532},
{"i":458,"o":0.8652,"h":0.8667,"l":0.86514,"c":0.86666},
{"i":459,"o":0.86654,"h":0.86721,"l":0.86643,"c":0.86692},
{"i":460,"o":0.86692,"h":0.86862,"l":0.86639,"c":0.86654},
{"i":461,"o":0.86654,"h":0.86822,"l":0.86632,"c":0.86726},
{"i":462,"o":0.86722,"h":0.86788,"l":0.86621,"c":0.86699},
{"i":463,"o":0.86699,"h":0.86766,"l":0.8661,"c":0.86643},
{"i":464,"o":0.86648,"h":0.8671,"l":0.8661,"c":0.86632},
{"i":465,"o":0.86632,"h":0.86688,"l":0.86558,"c":0.86576},
{"i":466,"o":0.86581,"h":0.86599,"l":0.86543,"c":0.86572},
{"i":467,"o":0.86576,"h":0.86683,"l":0.86505,"c":0.86614},
{"i":468,"o":0.86616,"h":0.86683,"l":0.86587,"c":0.86599},
{"i":469,"o":0.86603,"h":0.86621,"l":0.86527,"c":0.86572},
{"i":470,"o":0.86565,"h":0.86643,"l":0.8652,"c":0.86621},
{"i":471,"o":0.86621,"h":0.86643,"l":0.8655,"c":0.86558},
{"i":472,"o":0.86558,"h":0.86683,"l":0.86505,"c":0.8667},
{"i":473,"o":0.8667,"h":0.86744,"l":0.8655,"c":0.86558},
{"i":474,"o":0.86558,"h":0.86688,"l":0.8655,"c":0.86621},
{"i":475,"o":0.86621,"h":0.86677,"l":0.8661,"c":0.86666},
{"i":476,"o":0.86833,"h":0.86989,"l":0.86777,"c":0.86983},
{"i":477,"o":0.86983,"h":0.86996,"l":0.869,"c":0.86922},
{"i":478,"o":0.86922,"h":0.86933,"l":0.86715,"c":0.86726},
{"i":479,"o":0.86728,"h":0.86733,"l":0.86532,"c":0.86536},
{"i":480,"o":0.86532,"h":0.86621,"l":0.86465,"c":0.86534},
{"i":481,"o":0.86525,"h":0.8655,"l":0.86491,"c":0.8652},
{"i":482,"o":0.86491,"h":0.86543,"l":0.86431,"c":0.8652},
{"i":483,"o":0.86487,"h":0.86532,"l":0.86476,"c":0.86509},
{"i":484,"o":0.86509,"h":0.8667,"l":0.86498,"c":0.86603},
{"i":485,"o":0.86603,"h":0.86983,"l":0.86599,"c":0.86893},
{"i":486,"o":0.869,"h":0.86967,"l":0.86683,"c":0.86773},
{"i":487,"o":0.86773,"h":0.86795,"l":0.8671,"c":0.86721},
{"i":488,"o":0.86737,"h":0.86755,"l":0.86688,"c":0.86735},
{"i":489,"o":0.86744,"h":0.86777,"l":0.8671,"c":0.86715},
{"i":490,"o":0.86715,"h":0.86744,"l":0.86587,"c":0.8667},
{"i":491,"o":0.8667,"h":0.86938,"l":0.86599,"c":0.86648},
{"i":492,"o":0.86648,"h":0.86719,"l":0.86576,"c":0.86587},
{"i":493,"o":0.86587,"h":0.8671,"l":0.86532,"c":0.86643},
{"i":494,"o":0.86643,"h":0.86654,"l":0.86576,"c":0.86637},
{"i":495,"o":0.86632,"h":0.86643,"l":0.86514,"c":0.86536},
{"i":496,"o":0.86536,"h":0.86554,"l":0.86447,"c":0.8652},
{"i":497,"o":0.8652,"h":0.86632,"l":0.86364,"c":0.86505},
{"i":498,"o":0.86505,"h":0.86599,"l":0.86376,"c":0.8652},
{"i":499,"o":0.8652,"h":0.86527,"l":0.8632,"c":0.86375},
{"i":500,"o":0.86387,"h":0.86398,"l":0.8632,"c":0.86358},
{"i":501,"o":0.86358,"h":0.86476,"l":0.86349,"c":0.86387},
{"i":502,"o":0.8642,"h":0.86933,"l":0.86387,"c":0.86799},
{"i":503,"o":0.86799,"h":0.86844,"l":0.86654,"c":0.86795},
{"i":504,"o":0.86755,"h":0.87101,"l":0.86721,"c":0.8705},
{"i":505,"o":0.8705,"h":0.87112,"l":0.86956,"c":0.86971},
{"i":506,"o":0.86748,"h":0.86811,"l":0.86532,"c":0.86554},
{"i":507,"o":0.86558,"h":0.86576,"l":0.86487,"c":0.86505},
{"i":508,"o":0.86505,"h":0.86587,"l":0.86308,"c":0.86358},
{"i":509,"o":0.86358,"h":0.86364,"l":0.86197,"c":0.86313},
{"i":510,"o":0.86304,"h":0.8632,"l":0.86141,"c":0.86291},
{"i":511,"o":0.86291,"h":0.86442,"l":0.86286,"c":0.86416},
{"i":512,"o":0.86398,"h":0.86447,"l":0.86376,"c":0.86402},
{"i":513,"o":0.86402,"h":0.86416,"l":0.86393,"c":0.864},
{"i":514,"o":0.86409,"h":0.86442,"l":0.86163,"c":0.86208},
{"i":515,"o":0.86208,"h":0.8632,"l":0.86157,"c":0.86313},
{"i":516,"o":0.86313,"h":0.86476,"l":0.86197,"c":0.86308},
{"i":517,"o":0.86286,"h":0.86364,"l":0.86264,"c":0.86313},
{"i":518,"o":0.86308,"h":0.87,"l":0.86297,"c":0.86907},
{"i":519,"o":0.86907,"h":0.87157,"l":0.86826,"c":0.87145},
{"i":520,"o":0.87145,"h":0.8752,"l":0.8711,"c":0.8745},
{"i":521,"o":0.8745,"h":0.8776,"l":0.874,"c":0.8764},
{"i":522,"o":0.8764,"h":0.8772,"l":0.8748,"c":0.8756},
{"i":523,"o":0.8756,"h":0.8765,"l":0.8743,"c":0.876},
{"i":524,"o":0.876,"h":0.8766,"l":0.8742,"c":0.8746},
{"i":525,"o":0.8746,"h":0.8758,"l":0.874,"c":0.8754},
{"i":526,"o":0.8754,"h":0.8759,"l":0.8742,"c":0.8747},
{"i":527,"o":0.8747,"h":0.8756,"l":0.8738,"c":0.8739},
{"i":528,"o":0.8739,"h":0.8742,"l":0.8709,"c":0.87224},
{"i":529,"o":0.87224,"h":0.873,"l":0.8719,"c":0.8725},
{"i":530,"o":0.8719,"h":0.8732,"l":0.8716,"c":0.87291},
{"i":531,"o":0.87291,"h":0.8733,"l":0.8725,"c":0.87296},
{"i":532,"o":0.87302,"h":0.8738,"l":0.87145,"c":0.87157},
{"i":533,"o":0.87157,"h":0.8742,"l":0.87005,"c":0.87388},
{"i":534,"o":0.87388,"h":0.87677,"l":0.87256,"c":0.87617},
{"i":535,"o":0.87617,"h":0.87677,"l":0.87528,"c":0.87552},
{"i":536,"o":0.87552,"h":0.87653,"l":0.87545,"c":0.87624},
{"i":537,"o":0.87617,"h":0.87744,"l":0.87586,"c":0.87677},
{"i":538,"o":0.87677,"h":0.87918,"l":0.87665,"c":0.87833},
{"i":539,"o":0.87833,"h":0.88067,"l":0.87817,"c":0.87978},
{"i":540,"o":0.87978,"h":0.88067,"l":0.87918,"c":0.88021},
{"i":541,"o":0.88021,"h":0.88098,"l":0.8799,"c":0.88091},
{"i":542,"o":0.88038,"h":0.8817,"l":0.88002,"c":0.88153},
{"i":543,"o":0.88153,"h":0.88158,"l":0.88086,"c":0.88134},
{"i":544,"o":0.88134,"h":0.88302,"l":0.88086,"c":0.88249},
{"i":545,"o":0.88134,"h":0.88314,"l":0.88026,"c":0.88254},
{"i":546,"o":0.88254,"h":0.88362,"l":0.88115,"c":0.88129},
{"i":547,"o":0.88249,"h":0.88278,"l":0.88134,"c":0.88182},
{"i":548,"o":0.88199,"h":0.88283,"l":0.88153,"c":0.88182},
{"i":549,"o":0.88182,"h":0.88298,"l":0.8817,"c":0.88278},
{"i":550,"o":0.88278,"h":0.88411,"l":0.8817,"c":0.88259},
{"i":551,"o":0.88259,"h":0.8829,"l":0.8798,"c":0.88129},
{"i":552,"o":0.88129,"h":0.88531,"l":0.88067,"c":0.88507},
{"i":553,"o":0.88507,"h":0.88639,"l":0.885,"c":0.88591},
{"i":554,"o":0.88586,"h":0.88675,"l":0.88579,"c":0.88644},
{"i":555,"o":0.88651,"h":0.88788,"l":0.88639,"c":0.8874},
{"i":556,"o":0.8874,"h":0.88957,"l":0.88651,"c":0.88932},
{"i":557,"o":0.88932,"h":0.89091,"l":0.88856,"c":0.89005},
{"i":558,"o":0.89005,"h":0.89024,"l":0.88651,"c":0.88776},
{"i":559,"o":0.88771,"h":0.89173,"l":0.88764,"c":0.89043},
{"i":560,"o":0.89005,"h":0.89072,"l":0.88928,"c":0.89003},
{"i":561,"o":0.89005,"h":0.89019,"l":0.88904,"c":0.88923},
{"i":562,"o":0.88923,"h":0.88957,"l":0.88675,"c":0.88832},
{"i":563,"o":0.88832,"h":0.88868,"l":0.88663,"c":0.88844},
{"i":564,"o":0.88851,"h":0.88995,"l":0.88675,"c":0.88682},
{"i":565,"o":0.88682,"h":0.88868,"l":0.88591,"c":0.88844},
{"i":566,"o":0.8874,"h":0.88779,"l":0.88728,"c":0.88764},
{"i":567,"o":0.88764,"h":0.8886,"l":0.8873,"c":0.88754},
{"i":568,"o":0.88759,"h":0.88771,"l":0.88543,"c":0.88591},
{"i":569,"o":0.88591,"h":0.88807,"l":0.88567,"c":0.88579},
{"i":570,"o":0.88579,"h":0.88591,"l":0.88394,"c":0.88411},
{"i":571,"o":0.88418,"h":0.88442,"l":0.88283,"c":0.88302},
{"i":572,"o":0.88351,"h":0.88355,"l":0.88278,"c":0.88298},
{"i":573,"o":0.88298,"h":0.88399,"l":0.88278,"c":0.88379},
{"i":574,"o":0.88379,"h":0.88423,"l":0.88242,"c":0.88355},
{"i":575,"o":0.88355,"h":0.88375,"l":0.88009,"c":0.88074},
{"i":576,"o":0.88074,"h":0.88331,"l":0.88062,"c":0.88319},
{"i":577,"o":0.88319,"h":0.88447,"l":0.88194,"c":0.88235},
{"i":578,"o":0.88194,"h":0.88278,"l":0.8817,"c":0.88259},
{"i":579,"o":0.88259,"h":0.88362,"l":0.8825,"c":0.88355},
{"i":580,"o":0.88355,"h":0.88572,"l":0.88346,"c":0.88543},
{"i":581,"o":0.88543,"h":0.8862,"l":0.88435,"c":0.88447},
{"i":582,"o":0.88447,"h":0.88591,"l":0.88363,"c":0.88418},
{"i":583,"o":0.88418,"h":0.88428,"l":0.88351,"c":0.88403},
{"i":584,"o":0.88435,"h":0.88447,"l":0.88302,"c":0.88331},
{"i":585,"o":0.88331,"h":0.88338,"l":0.8825,"c":0.88314},
{"i":586,"o":0.88314,"h":0.88375,"l":0.88211,"c":0.88331},
{"i":587,"o":0.88411,"h":0.88447,"l":0.88254,"c":0.88332},
{"i":588,"o":0.88331,"h":0.88692,"l":0.8825,"c":0.88591},
{"i":589,"o":0.88591,"h":0.88699,"l":0.88586,"c":0.88687},
{"i":590,"o":0.88668,"h":0.88687,"l":0.8862,"c":0.88644},
{"i":591,"o":0.88644,"h":0.88692,"l":0.8862,"c":0.88682},
{"i":592,"o":0.88682,"h":0.88916,"l":0.88514,"c":0.88899},
{"i":593,"o":0.88899,"h":0.89385,"l":0.88783,"c":0.893},
{"i":594,"o":0.89308,"h":0.89565,"l":0.89252,"c":0.89337},
{"i":595,"o":0.89341,"h":0.89476,"l":0.89332,"c":0.89428},
{"i":596,"o":0.89132,"h":0.89173,"l":0.88976,"c":0.89012},
{"i":597,"o":0.89012,"h":0.89139,"l":0.8894,"c":0.89067},
{"i":598,"o":0.89067,"h":0.89168,"l":0.88884,"c":0.88892},
{"i":599,"o":0.88892,"h":0.8906,"l":0.88483,"c":0.88695},
{"i":600,"o":0.88695,"h":0.88759,"l":0.88543,"c":0.88716},
{"i":601,"o":0.88716,"h":0.88747,"l":0.8862,"c":0.88644},
{"i":602,"o":0.88615,"h":0.8894,"l":0.88538,"c":0.88783},
{"i":603,"o":0.88783,"h":0.88844,"l":0.88639,"c":0.88699},
{"i":604,"o":0.88699,"h":0.88771,"l":0.88579,"c":0.88591},
{"i":605,"o":0.88591,"h":0.88711,"l":0.88418,"c":0.88663},
{"i":606,"o":0.88658,"h":0.88844,"l":0.88651,"c":0.88795},
{"i":607,"o":0.88795,"h":0.88868,"l":0.88634,"c":0.88644},
{"i":608,"o":0.88658,"h":0.88675,"l":0.88538,"c":0.88567},
{"i":609,"o":0.88567,"h":0.88615,"l":0.88548,"c":0.88586},
{"i":610,"o":0.88586,"h":0.88591,"l":0.88266,"c":0.88283},
{"i":611,"o":0.88283,"h":0.88375,"l":0.88153,"c":0.88158},
{"i":612,"o":0.88153,"h":0.88206,"l":0.8798,"c":0.88105},
{"i":613,"o":0.88105,"h":0.88326,"l":0.88086,"c":0.88194},
{"i":614,"o":0.8811,"h":0.88338,"l":0.88086,"c":0.88283},
{"i":615,"o":0.88283,"h":0.88362,"l":0.88266,"c":0.88343},
{"i":616,"o":0.88343,"h":0.88471,"l":0.88326,"c":0.88466},
{"i":617,"o":0.88471,"h":0.88483,"l":0.88331,"c":0.88346},
{"i":618,"o":0.88346,"h":0.88363,"l":0.8825,"c":0.88298},
{"i":619,"o":0.88307,"h":0.88319,"l":0.88278,"c":0.88297},
{"i":620,"o":0.88298,"h":0.88307,"l":0.88019,"c":0.88105},
{"i":621,"o":0.88105,"h":0.88182,"l":0.88098,"c":0.88163},
{"i":622,"o":0.88158,"h":0.88194,"l":0.87954,"c":0.8811},
{"i":623,"o":0.88115,"h":0.88158,"l":0.88002,"c":0.88057},
{"i":624,"o":0.88057,"h":0.88278,"l":0.88026,"c":0.88098},
{"i":625,"o":0.88098,"h":0.88139,"l":0.87994,"c":0.88129},
{"i":626,"o":0.88033,"h":0.88411,"l":0.88026,"c":0.88399},
{"i":627,"o":0.88399,"h":0.88538,"l":0.88399,"c":0.8849},
{"i":628,"o":0.8849,"h":0.8862,"l":0.8835,"c":0.88591},
{"i":629,"o":0.88591,"h":0.88699,"l":0.88471,"c":0.88651},
{"i":630,"o":0.88644,"h":0.88892,"l":0.88507,"c":0.88699},
{"i":631,"o":0.88692,"h":0.88759,"l":0.88519,"c":0.88639},
{"i":632,"o":0.88615,"h":0.88795,"l":0.88603,"c":0.88783},
{"i":633,"o":0.88783,"h":0.88884,"l":0.88779,"c":0.888},
{"i":634,"o":0.888,"h":0.88844,"l":0.88435,"c":0.88524},
{"i":635,"o":0.88524,"h":0.88531,"l":0.88298,"c":0.88331},
{"i":636,"o":0.88331,"h":0.88507,"l":0.88326,"c":0.88495},
{"i":637,"o":0.88495,"h":0.88651,"l":0.88495,"c":0.88639},
{"i":638,"o":0.88615,"h":0.88759,"l":0.88615,"c":0.88692},
{"i":639,"o":0.88692,"h":0.88735,"l":0.88567,"c":0.8861},
{"i":640,"o":0.8861,"h":0.88795,"l":0.88531,"c":0.88711},
{"i":641,"o":0.88711,"h":0.88735,"l":0.88692,"c":0.88699},
{"i":642,"o":0.88711,"h":0.88754,"l":0.88266,"c":0.8829},
{"i":643,"o":0.8829,"h":0.88471,"l":0.88283,"c":0.88451},
{"i":644,"o":0.88435,"h":0.88451,"l":0.8835,"c":0.88447},
{"i":645,"o":0.88435,"h":0.88459,"l":0.88338,"c":0.8835},
{"i":646,"o":0.8835,"h":0.88531,"l":0.88331,"c":0.8849},
{"i":647,"o":0.8849,"h":0.88507,"l":0.88098,"c":0.88163},
{"i":648,"o":0.88163,"h":0.8817,"l":0.87882,"c":0.87961},
{"i":649,"o":0.87966,"h":0.8805,"l":0.87793,"c":0.87833},
{"i":650,"o":0.8791,"h":0.87954,"l":0.87826,"c":0.87912},
{"i":651,"o":0.8791,"h":0.87918,"l":0.87826,"c":0.87908},
{"i":652,"o":0.87912,"h":0.87954,"l":0.87797,"c":0.87882},
{"i":653,"o":0.87882,"h":0.87894,"l":0.8736,"c":0.87509},
{"i":654,"o":0.87509,"h":0.87894,"l":0.87465,"c":0.8787},
{"i":655,"o":0.87874,"h":0.87894,"l":0.87821,"c":0.87857},
{"i":656,"o":0.87882,"h":0.87922,"l":0.8787,"c":0.8791},
{"i":657,"o":0.87918,"h":0.88038,"l":0.87906,"c":0.88009},
{"i":658,"o":0.8799,"h":0.88019,"l":0.87942,"c":0.88002},
{"i":659,"o":0.87966,"h":0.87978,"l":0.87809,"c":0.87857},
{"i":660,"o":0.87857,"h":0.87882,"l":0.87581,"c":0.87826},
{"i":661,"o":0.87826,"h":0.8793,"l":0.87809,"c":0.87857},
{"i":662,"o":0.87857,"h":0.8793,"l":0.87826,"c":0.87834},
{"i":663,"o":0.87857,"h":0.8787,"l":0.87701,"c":0.87721},
{"i":664,"o":0.87721,"h":0.88074,"l":0.87713,"c":0.88043},
{"i":665,"o":0.8799,"h":0.88074,"l":0.87978,"c":0.88043},
{"i":666,"o":0.87978,"h":0.88298,"l":0.87942,"c":0.88278},
{"i":667,"o":0.88278,"h":0.88326,"l":0.88182,"c":0.8829},
{"i":668,"o":0.88283,"h":0.88326,"l":0.88266,"c":0.88302},
{"i":669,"o":0.88302,"h":0.88355,"l":0.88266,"c":0.8835},
{"i":670,"o":0.8835,"h":0.88543,"l":0.88326,"c":0.88427},
{"i":671,"o":0.88427,"h":0.88495,"l":0.8811,"c":0.88182},
{"i":672,"o":0.88182,"h":0.88524,"l":0.88146,"c":0.88476},
{"i":673,"o":0.88476,"h":0.88531,"l":0.88379,"c":0.88418},
{"i":674,"o":0.88418,"h":0.8856,"l":0.8838,"c":0.8852},
{"i":675,"o":0.8852,"h":0.887,"l":0.8849,"c":0.8866},
{"i":676,"o":0.8866,"h":0.88936,"l":0.8862,"c":0.8874},
{"i":677,"o":0.8874,"h":0.8899,"l":0.887,"c":0.88867},
{"i":678,"o":0.88867,"h":0.8902,"l":0.8876,"c":0.88913},
{"i":679,"o":0.88913,"h":0.8928,"l":0.88898,"c":0.89242},
{"i":680,"o":0.89201,"h":0.8928,"l":0.89158,"c":0.89253},
{"i":681,"o":0.8925,"h":0.89303,"l":0.89219,"c":0.89222},
{"i":682,"o":0.89222,"h":0.89456,"l":0.89219,"c":0.89445},
{"i":683,"o":0.89445,"h":0.89456,"l":0.8915,"c":0.89211},
{"i":684,"o":0.89219,"h":0.89288,"l":0.89196,"c":0.89245},
{"i":685,"o":0.8925,"h":0.89295,"l":0.89181,"c":0.89268},
{"i":686,"o":0.89253,"h":0.8936,"l":0.8912,"c":0.89124},
{"i":687,"o":0.89124,"h":0.8913,"l":0.89035,"c":0.89048},
{"i":688,"o":0.89051,"h":0.89181,"l":0.88982,"c":0.89043},
{"i":689,"o":0.89043,"h":0.8936,"l":0.89035,"c":0.89308},
{"i":690,"o":0.89308,"h":0.89482,"l":0.89265,"c":0.8939},
{"i":691,"o":0.8939,"h":0.89474,"l":0.89372,"c":0.89436},
{"i":692,"o":0.89395,"h":0.89402,"l":0.89295,"c":0.89314},
{"i":693,"o":0.89318,"h":0.89525,"l":0.89303,"c":0.89456},
{"i":694,"o":0.89456,"h":0.89742,"l":0.89441,"c":0.89736},
{"i":695,"o":0.89736,"h":0.89746,"l":0.89525,"c":0.89543},
{"i":696,"o":0.89561,"h":0.89568,"l":0.89181,"c":0.89196},
{"i":697,"o":0.89196,"h":0.89295,"l":0.89146,"c":0.89262},
{"i":698,"o":0.89242,"h":0.89265,"l":0.89204,"c":0.89234},
{"i":699,"o":0.89237,"h":0.89288,"l":0.89196,"c":0.89234},
{"i":700,"o":0.89237,"h":0.89418,"l":0.89173,"c":0.89372},
{"i":701,"o":0.89372,"h":0.89418,"l":0.89334,"c":0.89341},
{"i":702,"o":0.89341,"h":0.89387,"l":0.89211,"c":0.89283},
{"i":703,"o":0.8928,"h":0.902,"l":0.89181,"c":0.90113},
{"i":704,"o":0.90078,"h":0.90213,"l":0.89956,"c":0.89983},
{"i":705,"o":0.89983,"h":0.90109,"l":0.89945,"c":0.89953},
{"i":706,"o":0.8995,"h":0.90022,"l":0.89604,"c":0.89616},
{"i":707,"o":0.89616,"h":0.89727,"l":0.89517,"c":0.8972},
{"i":708,"o":0.89716,"h":0.89956,"l":0.89685,"c":0.89941},
{"i":709,"o":0.89938,"h":0.89976,"l":0.89769,"c":0.89876},
{"i":710,"o":0.89788,"h":0.89861,"l":0.89785,"c":0.89808},
{"i":711,"o":0.89808,"h":0.89864,"l":0.89746,"c":0.89769},
{"i":712,"o":0.89772,"h":0.89864,"l":0.89525,"c":0.89528},
{"i":713,"o":0.89528,"h":0.89532,"l":0.89211,"c":0.89395},
{"i":714,"o":0.89395,"h":0.89398,"l":0.89158,"c":0.89227},
{"i":715,"o":0.89227,"h":0.89314,"l":0.89135,"c":0.89311},
{"i":716,"o":0.89188,"h":0.89357,"l":0.89181,"c":0.89311},
{"i":717,"o":0.89311,"h":0.89372,"l":0.8928,"c":0.89369},
{"i":718,"o":0.89369,"h":0.89571,"l":0.89341,"c":0.89548},
{"i":719,"o":0.89548,"h":0.89736,"l":0.89502,"c":0.8972},
{"i":720,"o":0.8972,"h":0.89923,"l":0.8969,"c":0.89915},
{"i":721,"o":0.89919,"h":0.89923,"l":0.89815,"c":0.89858},
{"i":722,"o":0.89831,"h":0.89876,"l":0.89827,"c":0.89864},
{"i":723,"o":0.89864,"h":0.8996,"l":0.89838,"c":0.89849},
{"i":724,"o":0.89849,"h":0.90075,"l":0.89846,"c":0.90067},
{"i":725,"o":0.90075,"h":0.90115,"l":0.89918,"c":0.89974},
{"i":726,"o":0.89974,"h":0.90115,"l":0.89965,"c":0.90106},
{"i":727,"o":0.90091,"h":0.90106,"l":0.90012,"c":0.90022},
{"i":728,"o":0.89971,"h":0.90022,"l":0.89918,"c":0.89973},
{"i":729,"o":0.89956,"h":0.90012,"l":0.89941,"c":0.89974},
{"i":730,"o":0.89974,"h":0.90012,"l":0.89937,"c":0.89956},
{"i":731,"o":0.89956,"h":0.90087,"l":0.89946,"c":0.90072},
{"i":732,"o":0.90072,"h":0.90087,"l":0.89956,"c":0.89959},
{"i":733,"o":0.89965,"h":0.89974,"l":0.89839,"c":0.89871},
{"i":734,"o":0.89922,"h":0.89974,"l":0.89843,"c":0.89959},
{"i":735,"o":0.89959,"h":0.89984,"l":0.89937,"c":0.89978},
{"i":736,"o":0.89978,"h":0.90115,"l":0.89946,"c":0.90031},
{"i":737,"o":0.90031,"h":0.90106,"l":0.90022,"c":0.90072},
{"i":738,"o":0.90068,"h":0.90275,"l":0.90022,"c":0.90252},
{"i":739,"o":0.90252,"h":0.90313,"l":0.90181,"c":0.90271},
{"i":740,"o":0.90162,"h":0.9019,"l":0.90115,"c":0.90172},
{"i":741,"o":0.90162,"h":0.9019,"l":0.90143,"c":0.90181},
{"i":742,"o":0.90181,"h":0.9024,"l":0.90125,"c":0.902},
{"i":743,"o":0.9019,"h":0.90585,"l":0.90096,"c":0.90575},
{"i":744,"o":0.90585,"h":0.90735,"l":0.90444,"c":0.9051},
{"i":745,"o":0.9051,"h":0.90515,"l":0.90341,"c":0.9035},
{"i":746,"o":0.90406,"h":0.90425,"l":0.90237,"c":0.90303},
{"i":747,"o":0.90303,"h":0.90388,"l":0.90219,"c":0.90378},
{"i":748,"o":0.90378,"h":0.90482,"l":0.90369,"c":0.90475},
{"i":749,"o":0.90397,"h":0.90613,"l":0.90388,"c":0.9051},
{"i":750,"o":0.9051,"h":0.90801,"l":0.905,"c":0.90773},
{"i":751,"o":0.90773,"h":0.9081,"l":0.90754,"c":0.90801},
{"i":752,"o":0.90778,"h":0.90782,"l":0.90472,"c":0.9056},
{"i":753,"o":0.90669,"h":0.90679,"l":0.90388,"c":0.90482},
{"i":754,"o":0.90482,"h":0.90895,"l":0.90472,"c":0.90866},
{"i":755,"o":0.90866,"h":0.91364,"l":0.90773,"c":0.91233},
{"i":756,"o":0.91233,"h":0.91364,"l":0.91214,"c":0.91231},
{"i":757,"o":0.91233,"h":0.91349,"l":0.91195,"c":0.91242},
{"i":758,"o":0.91233,"h":0.91251,"l":0.91143,"c":0.91148},
{"i":759,"o":0.91148,"h":0.91158,"l":0.91082,"c":0.91139},
{"i":760,"o":0.91139,"h":0.91158,"l":0.90904,"c":0.90913},
{"i":761,"o":0.90913,"h":0.90989,"l":0.90857,"c":0.90932},
{"i":762,"o":0.90917,"h":0.91073,"l":0.90734,"c":0.90932},
{"i":763,"o":0.90932,"h":0.90989,"l":0.90913,"c":0.90979},
{"i":764,"o":0.9097,"h":0.91035,"l":0.90853,"c":0.90985},
{"i":765,"o":0.9096,"h":0.90989,"l":0.90932,"c":0.90955},
{"i":766,"o":0.90951,"h":0.90992,"l":0.90388,"c":0.90585},
{"i":767,"o":0.90585,"h":0.9059,"l":0.90087,"c":0.90219},
{"i":768,"o":0.90219,"h":0.90453,"l":0.90172,"c":0.90397},
{"i":769,"o":0.90397,"h":0.90519,"l":0.90388,"c":0.90463},
{"i":770,"o":0.90463,"h":0.90538,"l":0.90425,"c":0.90523},
{"i":771,"o":0.90528,"h":0.90534,"l":0.90331,"c":0.90378},
{"i":772,"o":0.90397,"h":0.905,"l":0.90219,"c":0.90388},
{"i":773,"o":0.90397,"h":0.90763,"l":0.90388,"c":0.90697},
{"i":774,"o":0.90697,"h":0.90782,"l":0.90679,"c":0.90754},
{"i":775,"o":0.90754,"h":0.90979,"l":0.90744,"c":0.9097},
{"i":776,"o":0.90951,"h":0.90955,"l":0.90866,"c":0.90913},
{"i":777,"o":0.90932,"h":0.90951,"l":0.90895,"c":0.9091},
{"i":778,"o":0.90891,"h":0.91199,"l":0.9088,"c":0.91186},
{"i":779,"o":0.91186,"h":0.9128,"l":0.91017,"c":0.91026},
{"i":780,"o":0.91026,"h":0.91195,"l":0.90979,"c":0.91148},
{"i":781,"o":0.91144,"h":0.91186,"l":0.91111,"c":0.91142},
{"i":782,"o":0.91097,"h":0.91158,"l":0.91064,"c":0.91079},
{"i":783,"o":0.91073,"h":0.91148,"l":0.90973,"c":0.91083},
{"i":784,"o":0.91064,"h":0.91308,"l":0.91054,"c":0.91148},
{"i":785,"o":0.9112,"h":0.91233,"l":0.91111,"c":0.91144},
{"i":786,"o":0.91144,"h":0.91298,"l":0.91064,"c":0.91266},
{"i":787,"o":0.91266,"h":0.91289,"l":0.91195,"c":0.91233},
{"i":788,"o":0.91251,"h":0.91289,"l":0.91139,"c":0.91173},
{"i":789,"o":0.91173,"h":0.91317,"l":0.91158,"c":0.91293},
{"i":790,"o":0.91298,"h":0.91349,"l":0.91285,"c":0.91336},
{"i":791,"o":0.91336,"h":0.91894,"l":0.91308,"c":0.91697},
{"i":792,"o":0.91704,"h":0.91796,"l":0.91449,"c":0.91666},
{"i":793,"o":0.91644,"h":0.91758,"l":0.91636,"c":0.91644}
]
},
"layer": [
{
"data": {"name": "levels"},
"transform": [{"filter": "datum.grp === 'bid'"}],
"mark": {"type": "rule", "color": "#c0c0c0", "strokeWidth": 1},
"encoding": {
"y": {"field": "p", "type": "quantitative", "scale": {"domain": [0.83435, 0.92416], "nice": false, "zero": false},
"axis": {"title": null, "orient": "right", "values": [0.9226,0.9196,0.9166,0.91365,0.91065,0.90765,0.90465,0.90165,0.89865,0.89565,0.89265,0.88965,0.88665,0.88365,0.88065,0.8777,0.8747,0.8717,0.8687,0.8657,0.86275,0.85975,0.85675,0.85375,0.8508,0.8478,0.8448,0.8418,0.8388,0.8358],
"format": ".5f", "grid": true, "gridColor": "#c0c0c0", "gridDash": [3, 3], "gridWidth": 1,
"domain": false, "ticks": true, "tickSize": 4, "tickColor": "#000000", "labelPadding": 4,
"labelFont": "Liberation Sans", "labelFontSize": 18, "labelColor": "#000000", "labelOverlap": false, "labelFlush": false, "labelBound": false}}
}
},
{
"data": {"name": "levels"},
"transform": [{"filter": "datum.grp !== 'bid' && datum.grp !== 'pivot' && datum.grp !== 'sup'"}],
"mark": {"type": "rule", "strokeWidth": 1, "strokeDash": [17, 7], "clip": true},
"encoding": {
"y": {"field": "p", "type": "quantitative", "scale": {"domain": [0.83435, 0.92416], "nice": false, "zero": false}},
"color": {"field": "grp", "type": "nominal", "legend": null, "scale": {"domain": ["7/8","6/8","5/8","pivot","3/8","2/8","1/8","sup","-1/8","-2/8","bid"], "range": ["#FF8C00","#FF4500","#556B2F","#1E90FF","#556B2F","#FF4500","#FF8C00","#1E90FF","#FF00FF","#C71585","#000000"]}}
}
},
{
"data": {"name": "levels"},
"transform": [{"filter": "datum.grp === 'pivot'"}],
"mark": {"type": "rule", "strokeWidth": 1, "color": "#1E90FF"},
"encoding": {
"y": {"field": "p", "type": "quantitative", "scale": {"domain": [0.83435, 0.92416], "nice": false, "zero": false}}
}
},
{
"data": {"name": "levels"},
"transform": [{"filter": "datum.grp === 'sup'"}],
"mark": {"type": "rule", "strokeWidth": 2, "color": "#1E90FF"},
"encoding": {
"y": {"field": "p", "type": "quantitative", "scale": {"domain": [0.83435, 0.92416], "nice": false, "zero": false}}
}
},
{
"data": {"name": "levels"},
"transform": [{"filter": "datum.grp !== 'bid'"}],
"mark": {"type": "text", "align": "center", "baseline": "top", "dy": 2, "fontSize": 20, "font": "Liberation Sans", "clip": true},
"encoding": {
"x": {"datum": 767.1, "type": "quantitative", "scale": {"domain": [-0.625, 935.375], "nice": false, "zero": false}},
"y": {"field": "p", "type": "quantitative", "scale": {"domain": [0.83435, 0.92416], "nice": false, "zero": false}},
"text": {"field": "name"},
"color": {"field": "grp", "type": "nominal", "legend": null, "scale": {"domain": ["7/8","6/8","5/8","pivot","3/8","2/8","1/8","sup","-1/8","-2/8","bid"], "range": ["#FF8C00","#FF4500","#556B2F","#1E90FF","#556B2F","#FF4500","#FF8C00","#1E90FF","#FF00FF","#C71585","#000000"]}}
}
},
{
"data": {"name": "bars"},
"mark": {"type": "rule", "color": "#000000", "strokeWidth": 1},
"encoding": {
"x": {"field": "i", "type": "quantitative", "scale": {"domain": [-0.625, 935.375], "nice": false, "zero": false},
"axis": {"title": null, "values": [0,16,32,48,64,80,96,112,128,144,160,176,192,208,224,240,256,272,288,304,320,336,352,368,384,400,416,432,448,464,480,496,512,528,544,560,576,592,608,624,640,656,672,688,704,720,736,752,768,784,800,816,832,848,864,880,896,912,928],
"labelExpr": "(datum.value % 32 === 0 && datum.value <= 768) ? ['8 Jul 2024','16 Jul 00:00','23 Jul 08:00','30 Jul 16:00','7 Aug 00:00','14 Aug 08:00','21 Aug 16:00','29 Aug 00:00','5 Sep 08:00','12 Sep 16:00','20 Sep 00:00','27 Sep 08:00','4 Oct 16:00','14 Oct 00:00','21 Oct 08:00','28 Oct 16:00','5 Nov 00:00','12 Nov 08:00','19 Nov 16:00','27 Nov 00:00','4 Dec 08:00','11 Dec 16:00','19 Dec 00:00','27 Dec 08:00','6 Jan 16:00'][datum.value / 32] : ''",
"grid": true, "gridColor": "#c0c0c0", "gridDash": [3, 3], "gridWidth": 1,
"domain": false, "ticks": true, "tickSize": 5, "tickColor": "#000000",
"tickOpacity": {"condition": {"test": "datum.value % 32 === 0 && datum.value <= 768", "value": 1}, "value": 0},
"labelAlign": "left", "labelBaseline": "top", "labelPadding": 2, "labelFont": "Liberation Sans", "labelFontSize": 18, "labelColor": "#000000",
"labelOverlap": false, "labelFlush": false, "labelBound": false}},
"y": {"field": "l", "type": "quantitative", "scale": {"domain": [0.83435, 0.92416], "nice": false, "zero": false}},
"y2": {"field": "h"}
}
},
{
"data": {"name": "bars"},
"mark": {"type": "bar", "width": 2, "stroke": "#000000", "strokeWidth": 1},
"encoding": {
"x": {"field": "i", "type": "quantitative", "scale": {"domain": [-0.625, 935.375], "nice": false, "zero": false}},
"y": {"field": "o", "type": "quantitative", "scale": {"domain": [0.83435, 0.92416], "nice": false, "zero": false}},
"y2": {"field": "c"},
"fill": {"condition": {"test": "datum.c >= datum.o", "value": "#ffffff"}, "value": "#000000"}
}
},
{
"data": {"name": "levels"},
"transform": [{"filter": "datum.p < 0.924 && datum.grp !== 'bid'"}],
"mark": {"type": "tick", "orient": "horizontal", "size": 80, "thickness": 22, "opacity": 1, "filled": true, "yOffset": 6},
"encoding": {
"x": {"datum": 945.625, "type": "quantitative", "scale": {"domain": [-0.625, 935.375], "nice": false, "zero": false}},
"y": {"field": "p", "type": "quantitative", "scale": {"domain": [0.83435, 0.92416], "nice": false, "zero": false}},
"color": {"field": "grp", "type": "nominal", "legend": null, "scale": {"domain": ["7/8","6/8","5/8","pivot","3/8","2/8","1/8","sup","-1/8","-2/8","bid"], "range": ["#FF8C00","#FF4500","#556B2F","#1E90FF","#556B2F","#FF4500","#FF8C00","#1E90FF","#FF00FF","#C71585","#000000"]}}
}
},
{
"data": {"name": "levels"},
"transform": [{"filter": "datum.grp === 'bid'"}],
"mark": {"type": "tick", "orient": "horizontal", "size": 80, "thickness": 22, "opacity": 1, "filled": true, "color": "#000000"},
"encoding": {
"x": {"datum": 945.625, "type": "quantitative", "scale": {"domain": [-0.625, 935.375], "nice": false, "zero": false}},
"y": {"field": "p", "type": "quantitative", "scale": {"domain": [0.83435, 0.92416], "nice": false, "zero": false}}
}
},
{
"data": {"name": "levels"},
"transform": [{"filter": "datum.p < 0.924 && datum.grp !== 'bid'"}],
"mark": {"type": "text", "align": "center", "baseline": "middle", "fontSize": 18, "font": "Liberation Sans", "color": "#ffffff", "dy": 6},
"encoding": {
"x": {"datum": 945.625, "type": "quantitative", "scale": {"domain": [-0.625, 935.375], "nice": false, "zero": false}},
"y": {"field": "p", "type": "quantitative", "scale": {"domain": [0.83435, 0.92416], "nice": false, "zero": false}},
"text": {"field": "p", "type": "quantitative", "format": ".5f"}
}
},
{
"data": {"name": "levels"},
"transform": [{"filter": "datum.grp === 'bid'"}],
"mark": {"type": "text", "align": "center", "baseline": "middle", "fontSize": 18, "font": "Liberation Sans", "color": "#ffffff"},
"encoding": {
"x": {"datum": 945.625, "type": "quantitative", "scale": {"domain": [-0.625, 935.375], "nice": false, "zero": false}},
"y": {"field": "p", "type": "quantitative", "scale": {"domain": [0.83435, 0.92416], "nice": false, "zero": false}},
"text": {"field": "p", "type": "quantitative", "format": ".5f"}
}
},
{
"data": {"name": "shift"},
"mark": {"type": "point", "shape": "triangle-down", "size": 300, "filled": true, "opacity": 1, "color": "#a8a8a8"},
"encoding": {
"x": {"field": "i", "type": "quantitative", "scale": {"domain": [-0.625, 935.375], "nice": false, "zero": false}},
"y": {"field": "p", "type": "quantitative", "scale": {"domain": [0.83435, 0.92416], "nice": false, "zero": false}}
}
}
]
}
